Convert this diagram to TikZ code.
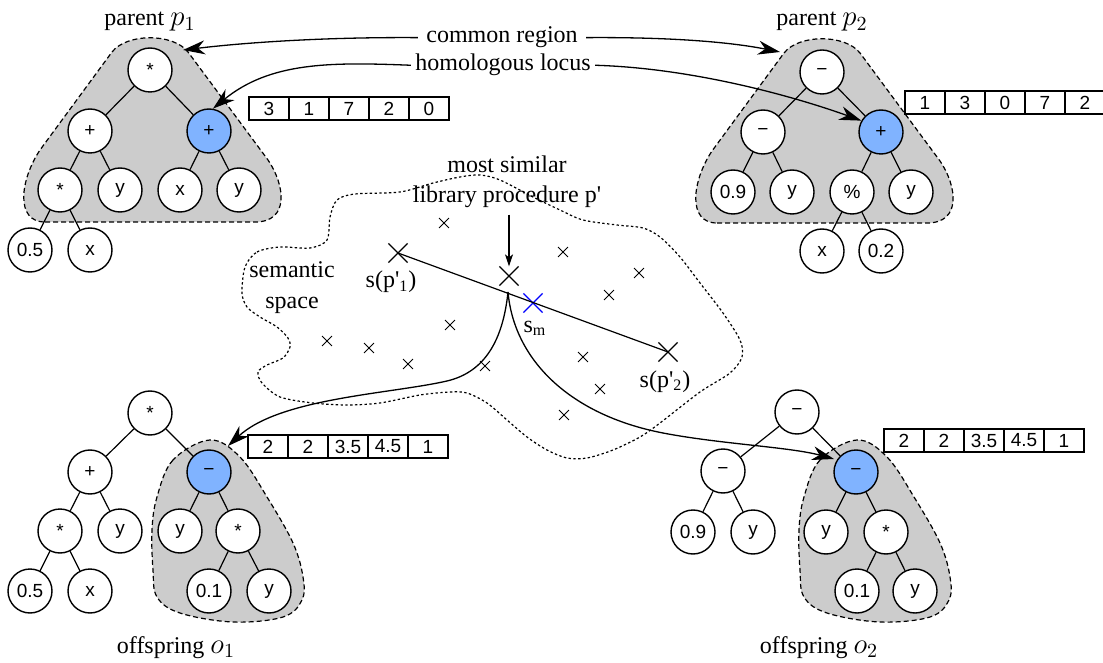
\documentclass[tikz,border=0pt]{standalone}
\usepackage[no-math]{fontspec}
\setmainfont{Liberation Serif}
\setsansfont{Liberation Sans}
\usetikzlibrary{arrows.meta,shapes.misc}
\definecolor{regiongray}{RGB}{204,204,204}
\definecolor{hlblue}{RGB}{128,179,255}
\begin{document}
\begin{tikzpicture}[x=0.5pt,y=-0.5pt,
  tn/.style={circle,draw,fill=white,minimum size=22pt,inner sep=0pt,line width=0.7pt,font=\sffamily\fontsize{9.5}{11}\selectfont},
  hn/.style={tn,fill=hlblue},
  cell/.style={draw,minimum width=20pt,minimum height=11.5pt,inner sep=0pt,line width=0.6pt,font=\sffamily\fontsize{9.5}{11}\selectfont},
  region/.style={fill=regiongray,draw=black,line width=0.6pt,dash pattern=on 2.5pt off 1.5pt},
  edge/.style={line width=0.6pt},
  lbl/.style={font=\fontsize{12}{14}\selectfont,inner sep=0pt},
  arr/.style={line width=0.65pt,-{Stealth[length=11pt,width=7pt,inset=3.5pt]}},
  bigx/.style={cross out,draw,minimum size=9pt,inner sep=0pt,line width=0.6pt},
  smallx/.style={cross out,draw,minimum size=4.5pt,inner sep=0pt,line width=0.45pt},
]
\useasboundingbox (0,0) rectangle (1103,663);

% ---------- gray regions ----------
\path[region] (45,222) -- (255,222) .. controls (290,222) and (285,185) .. (268,160) -- (188,52)
  .. controls (173,33) and (127,33) .. (112,52) -- (40,150) .. controls (20,180) and (15,222) .. (45,222) -- cycle;
\begin{scope}[shift={(672,1)}]
\path[region] (45,222) -- (255,222) .. controls (290,222) and (285,185) .. (268,160) -- (188,52)
  .. controls (173,33) and (127,33) .. (112,52) -- (40,150) .. controls (20,180) and (15,222) .. (45,222) -- cycle;
\end{scope}
\path[region] plot[smooth cycle,tension=0.6] coordinates {(210,440) (173,460) (157,497) (152,530) (153,570) (157,597) (180,613) (233,622) (283,617) (302,600) (303,577) (293,543) (267,497) (240,457)};
\begin{scope}[shift={(647,0)}]
\path[region] plot[smooth cycle,tension=0.6] coordinates {(210,440) (173,460) (157,497) (152,530) (153,570) (157,597) (180,613) (233,622) (283,617) (302,600) (303,577) (293,543) (267,497) (240,457)};
\end{scope}

% ---------- semantic space blob ----------
\draw[line width=0.6pt,dash pattern=on 1.2pt off 1.2pt] plot[smooth cycle,tension=0.5] coordinates {
(245,267) (257,252) (280,247) (310,248) (327,240) (330,217) (337,200) (355,194) (400,192) (433,183)
(460,177) (480,175) (500,180) (533,197) (560,210) (583,220) (617,225) (643,228) (660,237) (680,257)
(700,283) (723,313) (740,340) (742,357) (730,373) (700,392) (660,423) (640,437) (613,450) (587,458)
(567,458) (547,450) (527,437) (507,420) (487,403) (467,393) (450,392) (420,395) (380,403) (347,405)
(313,403) (280,397) (262,383) (258,372) (267,365) (283,358) (290,347) (288,338) (277,327) (260,317)
(247,307) (242,293)};

% ---------- parent p1 ----------
\node[tn] (p1r) at (150,70) {*};
\node[tn] (p1a) at (90,131) {+};
\node[hn] (p1b) at (209,131) {+};
\node[tn] (p1c) at (60,190) {*};
\node[tn] (p1d) at (120,190) {y};
\node[tn] (p1e) at (180,190) {x};
\node[tn] (p1f) at (239,190) {y};
\node[tn] (p1g) at (30,250) {0.5};
\node[tn] (p1h) at (90,250) {x};
\foreach \a/\b in {p1r/p1a,p1r/p1b,p1a/p1c,p1a/p1d,p1b/p1e,p1b/p1f,p1c/p1g,p1c/p1h}
  \draw[edge] (\a) -- (\b);

% ---------- parent p2 ----------
\node[tn] (p2r) at (822,72) {−};
\node[tn] (p2a) at (763,132) {−};
\node[hn] (p2b) at (881,132) {+};
\node[tn] (p2c) at (733,192) {0.9};
\node[tn] (p2d) at (792,192) {y};
\node[tn] (p2e) at (852,192) {\%};
\node[tn] (p2f) at (911,192) {y};
\node[tn] (p2g) at (822,251) {x};
\node[tn] (p2h) at (881,251) {0.2};
\foreach \a/\b in {p2r/p2a,p2r/p2b,p2a/p2c,p2a/p2d,p2b/p2e,p2b/p2f,p2e/p2g,p2e/p2h}
  \draw[edge] (\a) -- (\b);

% ---------- offspring o1 ----------
\node[tn] (o1r) at (150,413) {*};
\node[tn] (o1a) at (90,472) {+};
\node[hn] (o1b) at (209,472) {−};
\node[tn] (o1c) at (60,531) {*};
\node[tn] (o1d) at (120,531) {y};
\node[tn] (o1e) at (180,531) {y};
\node[tn] (o1f) at (238,531) {*};
\node[tn] (o1g) at (30,591) {0.5};
\node[tn] (o1h) at (90,591) {x};
\node[tn] (o1i) at (209,591) {0.1};
\node[tn] (o1j) at (269,591) {y};
\foreach \a/\b in {o1r/o1a,o1r/o1b,o1a/o1c,o1a/o1d,o1b/o1e,o1b/o1f,o1c/o1g,o1c/o1h,o1f/o1i,o1f/o1j}
  \draw[edge] (\a) -- (\b);

% ---------- offspring o2 ----------
\node[tn] (o2r) at (797,412) {−};
\node[tn] (o2a) at (723,471) {−};
\node[hn] (o2b) at (856,472) {−};
\node[tn] (o2c) at (693,532) {0.9};
\node[tn] (o2d) at (753,532) {y};
\node[tn] (o2e) at (826,532) {y};
\node[tn] (o2f) at (886,532) {*};
\node[tn] (o2i) at (857,591) {0.1};
\node[tn] (o2j) at (915,591) {y};
\foreach \a/\b in {o2r/o2a,o2r/o2b,o2a/o2c,o2a/o2d,o2b/o2e,o2b/o2f,o2f/o2i,o2f/o2j}
  \draw[edge] (\a) -- (\b);

% ---------- boxes ----------
\foreach \v [count=\i] in {3,1,7,2,0}
  \node[cell] (bp1-\i) at ({229+40*\i},108.5) {\v};
\foreach \v [count=\i] in {1,3,0,7,2}
  \node[cell] (bp2-\i) at ({885+40*\i},102.5) {\v};
\foreach \v [count=\i] in {2,2,3.5,4.5,1}
  \node[cell] (bo1-\i) at ({228+40*\i},446.5) {\v};
\foreach \v [count=\i] in {2,2,3.5,4.5,1}
  \node[cell] (bo2-\i) at ({864+40*\i},440.5) {\v};

% ---------- labels ----------
\node[lbl,anchor=base] (par1) at (150,26) {parent {\Large$p_1$}};
\node[lbl,anchor=base] (par2) at (822,26) {parent {\Large$p_2$}};
\node[lbl,anchor=base] (off1) at (176,653) {offspring {\Large$o_1$}};
\node[lbl,anchor=base] (off2) at (819,653) {offspring {\Large$o_2$}};
\node[lbl,anchor=base,inner sep=4pt] (cr) at (502,43) {common region};
\node[lbl,anchor=base,inner sep=2pt] (hl) at (503,71) {homologous locus};
\node[lbl,anchor=base] (ms) at (507,173) {most similar};
\node[lbl,anchor=base,inner sep=3pt] (lp) at (507,203) {library procedure p\textquotesingle};
\node[lbl,anchor=base] (sem1) at (292,278) {semantic};
\node[lbl,anchor=base] (sem2) at (292,308) {space};
\node[lbl,anchor=base] (lsp1) at (391,288) {s(p\textquotesingle\textsubscript{1})};
\node[lbl,anchor=base] (lsp2) at (665,387) {s(p\textquotesingle\textsubscript{2})};
\node[lbl,anchor=base] (lsm) at (535,332) {s\textsubscript{m}};

% ---------- crosses ----------
\foreach \p [count=\i] in {(444,223),(563,252),(639,273),(609,295),(450,325),(327,341),(369,348),(408,364),(485,366),(583,357),(600,389),(564,415)}
  \node[smallx] (sx\i) at \p {};
\node[bigx] (sp1) at (398,253) {};
\node[bigx] (pp) at (509,276) {};
\node[bigx] (sp2) at (668,352) {};
\node[bigx,draw=blue] (sm) at (533,303) {};
\draw[line width=0.6pt] (sp1.center) -- (sp2.center);

% ---------- connectors ----------
\coordinate (p1tip) at (183,50);
\coordinate (p2tip) at (780,52);
\coordinate (cusp) at (508,292);
\coordinate (o1tip) at (228,446);
\coordinate (o2tip) at (834,459);
\draw[arr] (cr.west) .. controls (330,37) and (250,42) .. (p1tip);
\draw[arr] (cr.east) .. controls (670,37) and (730,42) .. (p2tip);
\draw[arr] (hl.west) .. controls (330,62) and (270,62) .. (p1b.80);
\draw[arr] (hl.east) .. controls (690,68) and (790,95) .. (p2b.150);
\draw[line width=0.6pt,-{Stealth[length=6pt,width=4pt,inset=1.5pt]}] (pp |- lp.south) -- (pp.north);
\draw[arr] (cusp) .. controls (503,340) and (485,372) .. (447,381) .. controls (390,394) and (280,398) .. (o1tip);
\draw[arr] (cusp) .. controls (514,360) and (570,415) .. (663,433) .. controls (720,444) and (790,447) .. (o2tip);
\end{tikzpicture}
\end{document}
